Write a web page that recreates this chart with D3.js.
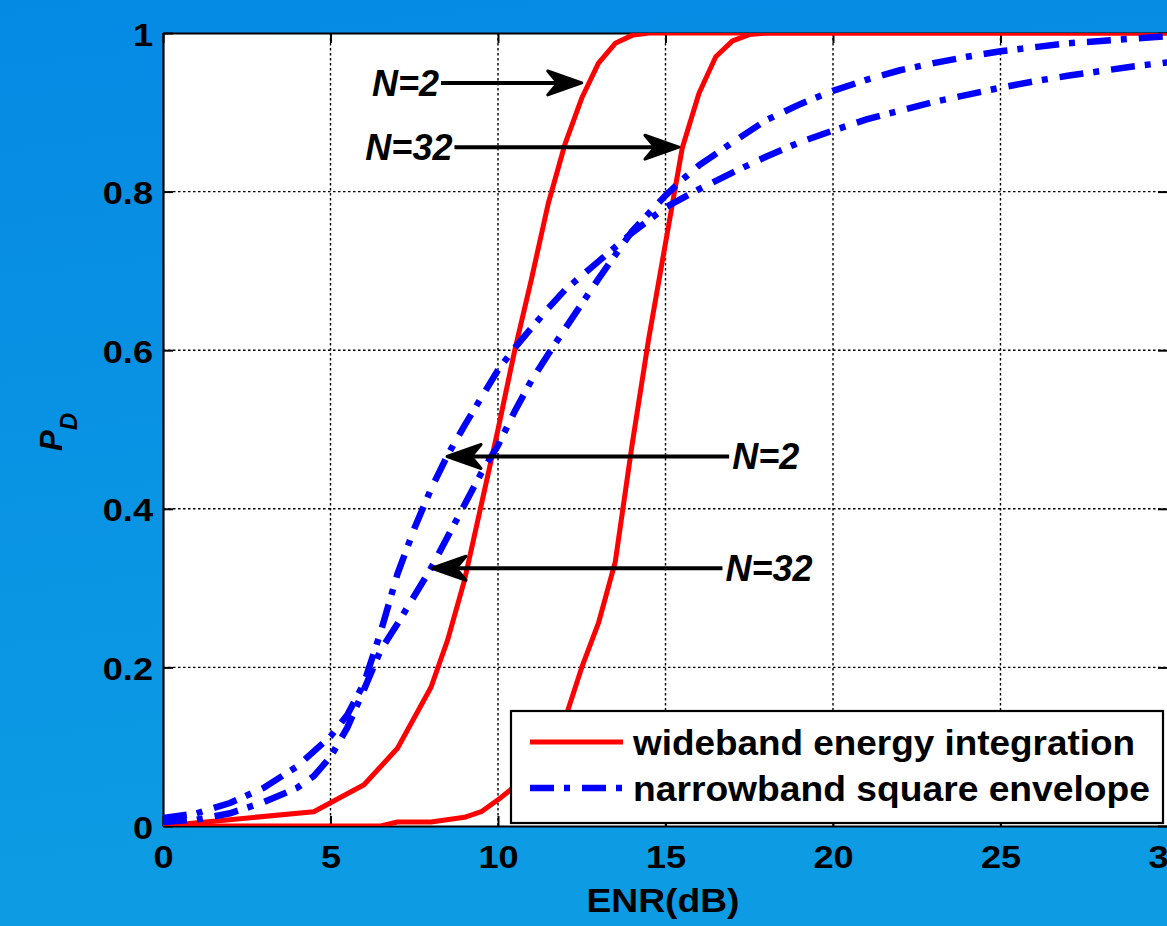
<!DOCTYPE html>
<html>
<head>
<meta charset="utf-8">
<script src="https://cdn.jsdelivr.net/npm/d3@7/dist/d3.min.js"></script>
<style>
  html, body { margin: 0; padding: 0; background: #0893e3; }
  svg { display: block; }
  text { font-family: "Liberation Sans", Arial, Helvetica, sans-serif; }
</style>
</head>
<body>
<svg id="chart" width="1167" height="926"></svg>
<script>
// ---------------- data ----------------
const xTicks = [0, 5, 10, 15, 20, 25, 30];
const yTicks = [0, 0.2, 0.4, 0.6, 0.8, 1];
const xLabel = "ENR(dB)";
const legendLabels = ["wideband energy integration", "narrowband square envelope"];

// wideband energy integration, N = 2
const enrWideN2 = [0, 4.5, 6, 7, 8, 8.5, 9, 9.5, 10, 10.5, 11, 11.5, 12, 12.5, 13, 13.5, 14, 14.5, 30];
const pdWideN2  = [0, 0.018, 0.052, 0.098, 0.175, 0.235, 0.31, 0.405, 0.5, 0.6, 0.69, 0.785, 0.86, 0.918, 0.962, 0.987, 0.997, 1, 1];

// wideband energy integration, N = 32
const enrWideN32 = [0, 6.5, 7, 8, 9, 9.5, 10, 10.5, 11, 11.5, 12, 12.5, 13, 13.5, 14, 14.5, 15, 15.5, 16, 16.5, 17, 17.5, 18, 30];
const pdWideN32  = [0, 0, 0.005, 0.005, 0.011, 0.018, 0.033, 0.05, 0.07, 0.098, 0.135, 0.2, 0.256, 0.333, 0.48, 0.615, 0.735, 0.855, 0.924, 0.97, 0.99, 0.998, 1, 1];

// narrowband square envelope, N = 2
const enrNarrowN2 = [0, 1, 2, 3, 4, 5, 5.5, 6, 6.5, 7, 7.5, 8, 8.5, 9, 9.5, 10, 10.5, 11, 11.5, 12, 13, 14, 15, 16, 17, 18, 19, 20, 21, 22, 23, 24, 25, 26, 27, 28, 29, 30];
const pdNarrowN2  = [0.01, 0.016, 0.029, 0.048, 0.075, 0.113, 0.14, 0.18, 0.245, 0.318, 0.375, 0.425, 0.468, 0.505, 0.54, 0.575, 0.603, 0.628, 0.653, 0.676, 0.712, 0.748, 0.78, 0.803, 0.824, 0.844, 0.862, 0.877, 0.891, 0.902, 0.913, 0.922, 0.931, 0.939, 0.946, 0.952, 0.958, 0.963];

// narrowband square envelope, N = 32
const enrNarrowN32 = [0, 1, 2, 3, 4, 4.5, 5, 5.5, 6, 6.5, 7, 7.5, 8, 8.5, 9, 9.5, 10, 10.5, 11, 11.5, 12, 13, 14, 15, 15.5, 16, 17, 18, 19, 20, 21, 22, 23, 24, 25, 26, 27, 28, 29, 30];
const pdNarrowN32  = [0.005, 0.008, 0.016, 0.03, 0.048, 0.063, 0.087, 0.124, 0.172, 0.222, 0.255, 0.29, 0.325, 0.365, 0.405, 0.445, 0.48, 0.523, 0.562, 0.595, 0.627, 0.69, 0.75, 0.795, 0.815, 0.833, 0.862, 0.89, 0.91, 0.927, 0.941, 0.953, 0.962, 0.97, 0.977, 0.982, 0.987, 0.99, 0.993, 0.996];

// annotations: label, arrow tail (enr, pd), arrow head (enr, pd)
const annLabels = ["N=2", "N=32", "N=2", "N=32"];
const annTailEnr = [8.3, 8.7, 16.9, 16.7];
const annHeadEnr = [12.5, 15.4, 8.48, 8.03];
const annPd      = [0.937, 0.856, 0.466, 0.325];
const annSide    = ["left", "left", "right", "right"];

// ---------------- drawing ----------------
const svg = d3.select("#chart");
const W = 1167, H = 926;
const L = 163, R = 1168, T = 33, B = 826;

const x = d3.scaleLinear().domain([0, 30]).range([L, R]);
const y = d3.scaleLinear().domain([0, 1]).range([B, T]);

const defs = svg.append("defs");
const grad = defs.append("linearGradient").attr("id", "bg").attr("x1", 0).attr("y1", 0).attr("x2", 0.15).attr("y2", 1);
grad.append("stop").attr("offset", "0%").attr("stop-color", "#058ae3");
grad.append("stop").attr("offset", "100%").attr("stop-color", "#0d9ce3");
defs.append("clipPath").attr("id", "plotclip").append("rect")
  .attr("x", L).attr("y", T).attr("width", R - L).attr("height", B - T);

svg.append("rect").attr("width", W).attr("height", H).attr("fill", "url(#bg)");
svg.append("rect").attr("x", L).attr("y", T).attr("width", R - L).attr("height", B - T).attr("fill", "#fff");

// grid
const grid = svg.append("g");
grid.selectAll("line.gx").data(xTicks.filter(d => d > 0 && d < 30)).join("line")
  .attr("x1", d => x(d)).attr("x2", d => x(d)).attr("y1", T).attr("y2", B)
  .attr("stroke", "#000").attr("stroke-width", 1.4).attr("stroke-dasharray", "2.5,2.5");
grid.selectAll("line.gy").data(yTicks.filter(d => d > 0 && d < 1)).join("line")
  .attr("y1", d => y(d)).attr("y2", d => y(d)).attr("x1", L).attr("x2", R)
  .attr("stroke", "#000").attr("stroke-width", 1.4).attr("stroke-dasharray", "2.5,2.5");

// stretch helper: reference type is slightly wider than Liberation Sans
function stretch(sel, k) {
  sel.each(function () {
    const len = this.getComputedTextLength();
    if (len > 0) d3.select(this).attr("textLength", len * k).attr("lengthAdjust", "spacingAndGlyphs");
  });
}

// axes
const fmt = d => (d === 0 || d === 1) ? String(d) : d3.format(".1f")(d);
const axL = svg.append("g").attr("transform", `translate(${L},0)`)
  .call(d3.axisLeft(y).tickValues(yTicks).tickFormat(fmt).tickSize(-10).tickSizeOuter(0).tickPadding(10));
const axB = svg.append("g").attr("transform", `translate(0,${B})`)
  .call(d3.axisBottom(x).tickValues(xTicks).tickFormat(d3.format("d")).tickSize(-10).tickSizeOuter(0).tickPadding(19));
const axT = svg.append("g").attr("transform", `translate(0,${T})`)
  .call(d3.axisTop(x).tickValues(xTicks).tickFormat("").tickSize(-10).tickSizeOuter(0));
const axR = svg.append("g").attr("transform", `translate(${R},0)`)
  .call(d3.axisRight(y).tickValues(yTicks).tickFormat("").tickSize(-10).tickSizeOuter(0));
[axL, axB, axT, axR].forEach(g => {
  g.select(".domain").attr("stroke", "#000").attr("stroke-width", 2.2);
  g.selectAll(".tick line").attr("stroke", "#000").attr("stroke-width", 2);
  g.selectAll(".tick text").attr("fill", "#000").attr("font-size", 32).attr("font-weight", "bold")
    .style("font-family", '"Liberation Sans", Arial, sans-serif');
});
axL.selectAll(".tick text").attr("dy", "0.38em");
stretch(axL.selectAll(".tick text"), 1.13);
stretch(axB.selectAll(".tick text"), 1.13);

// curves
const line = d3.line().x(d => x(d[0])).y(d => y(d[1]));
const plot = svg.append("g").attr("clip-path", "url(#plotclip)");
const zip = (a, b) => a.map((v, i) => [v, b[i]]);
plot.append("path").datum(zip(enrWideN2, pdWideN2)).attr("d", line)
  .attr("fill", "none").attr("stroke", "#ff0000").attr("stroke-width", 5).attr("stroke-linejoin", "round");
plot.append("path").datum(zip(enrWideN32, pdWideN32)).attr("d", line)
  .attr("fill", "none").attr("stroke", "#ff0000").attr("stroke-width", 5).attr("stroke-linejoin", "round");
plot.append("path").datum(zip(enrNarrowN2, pdNarrowN2)).attr("d", line)
  .attr("fill", "none").attr("stroke", "#0000ff").attr("stroke-width", 6.5).attr("stroke-dasharray", "24,10,6,12");
plot.append("path").datum(zip(enrNarrowN32, pdNarrowN32)).attr("d", line)
  .attr("fill", "none").attr("stroke", "#0000ff").attr("stroke-width", 6.5).attr("stroke-dasharray", "24,10,6,12");

// annotations
const ann = svg.append("g");
annLabels.forEach((lab, i) => {
  const x1 = x(annTailEnr[i]), x2 = x(annHeadEnr[i]), yy = y(annPd[i]);
  const dir = x2 > x1 ? 1 : -1;
  ann.append("line").attr("x1", x1).attr("x2", x2 - dir * 20).attr("y1", yy).attr("y2", yy)
    .attr("stroke", "#000").attr("stroke-width", 4);
  ann.append("path")
    .attr("d", `M0,0 L-34,-12 L-24,0 L-34,12 Z`)
    .attr("transform", `translate(${x2},${yy}) scale(${dir},1)`)
    .attr("fill", "#000").attr("stroke", "#000").attr("stroke-width", 3).attr("stroke-linejoin", "round");
  ann.append("text")
    .attr("x", annSide[i] === "left" ? x1 - 2 : x1 + 3)
    .attr("y", yy + 13)
    .attr("text-anchor", annSide[i] === "left" ? "end" : "start")
    .attr("font-size", 36).attr("font-weight", "bold").attr("font-style", "italic")
    .text(lab);
});

// legend
const lg = svg.append("g");
lg.append("rect").attr("x", 511).attr("y", 711).attr("width", 652).attr("height", 112)
  .attr("fill", "#fff").attr("stroke", "#000").attr("stroke-width", 2.2);
const lgStyles = [
  {stroke: "#ff0000", w: 5, dash: null, len: 502},
  {stroke: "#0000ff", w: 6.5, dash: "24,10,6,12", len: 517}
];
legendLabels.forEach((lab, i) => {
  const cy = 742 + i * 46;
  lg.append("line").attr("x1", 530).attr("x2", 623).attr("y1", cy).attr("y2", cy)
    .attr("stroke", lgStyles[i].stroke).attr("stroke-width", lgStyles[i].w)
    .attr("stroke-dasharray", lgStyles[i].dash);
  lg.append("text").attr("x", 633).attr("y", cy + 13)
    .attr("font-size", 35).attr("font-weight", "bold")
    .attr("textLength", lgStyles[i].len).attr("lengthAdjust", "spacingAndGlyphs")
    .text(lab);
});

// axis titles
svg.append("text").attr("x", 663).attr("y", 912).attr("text-anchor", "middle")
  .attr("font-size", 33).attr("font-weight", "bold")
  .attr("textLength", 153).attr("lengthAdjust", "spacingAndGlyphs").text(xLabel);
const yl = svg.append("text").attr("transform", "translate(62,451) rotate(-90)")
  .attr("font-size", 31).attr("font-weight", "bold").attr("font-style", "italic");
yl.append("tspan").text("P");
yl.append("tspan").attr("dy", 15).attr("font-size", 24).text("D");
</script>
</body>
</html>
